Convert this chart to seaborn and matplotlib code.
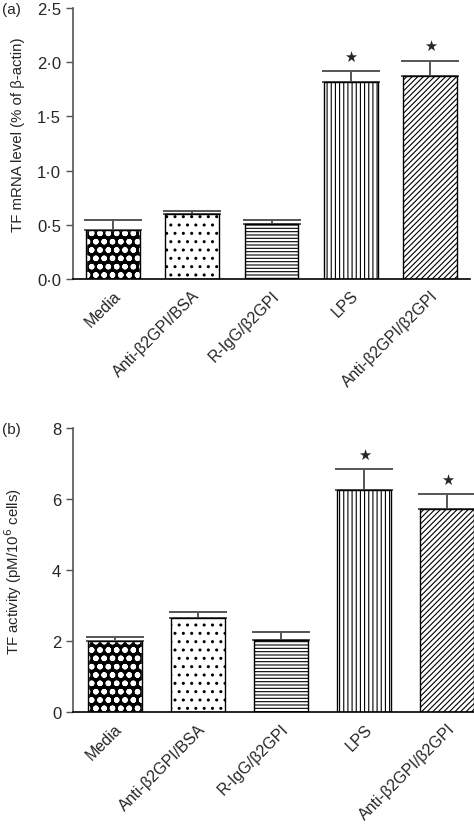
import matplotlib
matplotlib.use("Agg")
import matplotlib.pyplot as plt
import seaborn as sns
import numpy as np
import pandas as pd
from matplotlib.patches import Rectangle
from matplotlib.ticker import FuncFormatter

categories = ["Media", "Anti-β2GPI/BSA", "R-IgG/β2GPI", "LPS", "Anti-β2GPI/β2GPI"]
mrna_mean = [0.45, 0.60, 0.51, 1.82, 1.875]
mrna_err = [0.09, 0.03, 0.03, 0.095, 0.135]
activity_mean = [2.0, 2.65, 2.04, 6.26, 5.73]
activity_err = [0.12, 0.17, 0.21, 0.58, 0.40]
significant = [False, False, False, True, True]
hatches = ["oo", "..", "-----", "||||", "//////"]

sns.set_style("ticks")
plt.rcParams["font.family"] = ["Liberation Sans", "DejaVu Sans"]
plt.rcParams["hatch.linewidth"] = 0.8

fig = plt.figure(figsize=(4.74, 8.28), dpi=100)
ax_a = fig.add_axes([73/474, 1-280/828, (470-73)/474, (280-9)/828])
ax_b = fig.add_axes([73/474, 1-713.3/828, (489-73)/474, (713.3-429)/828])

def set_hlw(p, lw):
    try:
        p.set_hatch_linewidth(lw)
    except Exception:
        p._hatch_linewidth = lw

def draw(ax, means, errs, ylim, yticks, fmt, ylabel, bw, label_xy):
    df = pd.DataFrame({"cat": categories, "val": means})
    sns.barplot(data=df, x="cat", y="val", ax=ax, color="white", width=bw,
                edgecolor="black", linewidth=1.0, errorbar=None, saturation=1)
    for i, p in enumerate(ax.patches):
        if i == 0:
            p.set_facecolor("black")
            p.set_edgecolor("white")
            p.set_hatch(hatches[i])
            set_hlw(p, 1.6)
            ax.add_patch(Rectangle(p.get_xy(), p.get_width(), p.get_height(),
                                   fill=False, ec="black", lw=1.0, zorder=p.get_zorder()+0.1))
        else:
            p.set_facecolor("white")
            p.set_edgecolor("black")
            p.set_hatch(hatches[i])
            if i == 1:
                set_hlw(p, 1.0)
    x = np.arange(len(categories))
    ax.errorbar(x, means, yerr=[np.zeros(len(errs)), errs], fmt="none",
                ecolor="#555555", elinewidth=1.4, capsize=21, capthick=1.4, zorder=0.5)
    for i, s in enumerate(significant):
        if s:
            ax.annotate("★", (x[i], means[i] + errs[i]), xytext=(0, 11),
                        textcoords="offset points", ha="center", va="center",
                        fontsize=10.5, family=["DejaVu Sans"])
    ax.set_ylim(*ylim)
    ax.set_xlim(-0.5, 4.5)
    ax.set_yticks(yticks)
    ax.yaxis.set_major_formatter(FuncFormatter(fmt))
    ax.set_ylabel(ylabel, fontsize=10.8)
    ax.yaxis.set_label_coords(*label_xy)
    ax.set_xlabel("")
    ax.set_xticks(x)
    ax.set_xticklabels(categories, rotation=45, ha="right", rotation_mode="anchor", fontsize=11.5)
    ax.tick_params(axis="x", length=0, pad=6)
    ax.tick_params(axis="y", length=5, width=1, labelsize=12, direction="out", color="#555555")
    for s in ["top", "right"]:
        ax.spines[s].set_visible(False)
    ax.spines["left"].set_color("#555555")
    ax.spines["bottom"].set_color("black")
    ax.spines["left"].set_linewidth(1.2)
    ax.spines["bottom"].set_linewidth(1.2)

draw(ax_a, mrna_mean, mrna_err, (0, 2.5), [0, 0.5, 1.0, 1.5, 2.0, 2.5],
     lambda v, p: f"{v:.1f}".replace(".", "·"), "TF mRNA level (% of β-actin)", 0.68,
     (-0.122, 0.535))
draw(ax_b, activity_mean, activity_err, (0, 8), [0, 2, 4, 6, 8],
     lambda v, p: f"{v:.0f}", "TF activity (pM/10$^6$ cells)", 0.65,
     (-0.117, 0.5))

fig.text(2/474, 1-3/828, "(a)", fontsize=11, va="top", ha="left")
fig.text(2/474, 1-423/828, "(b)", fontsize=11, va="top", ha="left")

fig.savefig("out.png", dpi=100)
